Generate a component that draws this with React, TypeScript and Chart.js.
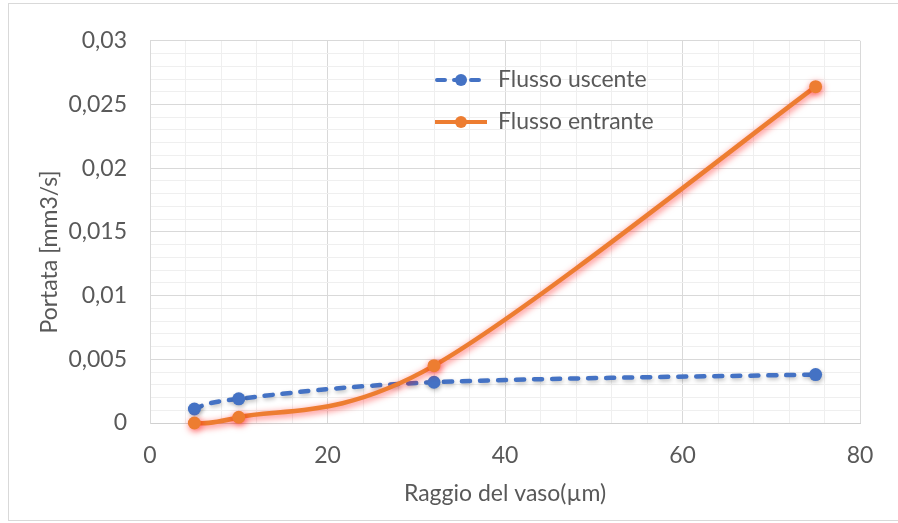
import React, { useEffect, useRef } from "react";
import { Chart, registerables } from "chart.js";

Chart.register(...registerables);

// Vessel radius (µm) and flow rates (mm3/s)
const raggi = [5, 10, 32, 75];
const flussoUscente = [0.0011, 0.0019, 0.0032, 0.0038];
const flussoEntrante = [0, 0.00045, 0.0045, 0.0264];

const seriesNames = ["Flusso uscente", "Flusso entrante"];
const xTitle = "Raggio del vaso(µm)";
const yTitle = "Portata [mm3/s]";

const BLUE = "#4472C4";
const ORANGE = "#ED7D31";
const TEXT = "#595959";
const FONT = "Lato, 'Open Sans', sans-serif";
const FS = 23;

const fmt = (v: number) => String(Number(v.toFixed(4))).replace(".", ",");

// Catmull-Rom style smoothing (control points at ±1/6 of the neighbour chord)
// plus a soft shadow / glow under each series
const smoothShadow = {
  id: "smoothShadow",
  beforeDatasetDraw(chart: any, args: any) {
    const meta = chart.getDatasetMeta(args.index);
    const line = meta.dataset;
    if (line && line.updateControlPoints) {
      line.updateControlPoints(chart.chartArea, meta.iScale ? meta.iScale.axis : "x");
      const pts = meta.data;
      for (let i = 0; i < pts.length; i++) {
        const p = pts[i];
        const prev = pts[i - 1] || p;
        const next = pts[i + 1] || p;
        const tx = (next.x - prev.x) / 6;
        const ty = (next.y - prev.y) / 6;
        p.cp1x = p.x - tx;
        p.cp1y = p.y - ty;
        p.cp2x = p.x + tx;
        p.cp2y = p.y + ty;
      }
      delete line._path;
    }
    const ds = chart.data.datasets[args.index] as any;
    const ctx = chart.ctx;
    ctx.save();
    if (ds.glow) {
      ctx.shadowColor = ds.glow.color;
      ctx.shadowBlur = ds.glow.blur;
      ctx.shadowOffsetX = ds.glow.dx;
      ctx.shadowOffsetY = ds.glow.dy;
    }
  },
  afterDatasetDraw(chart: any) {
    chart.ctx.restore();
  },
};

// Legend inside the plot area and the rotated y-axis title
const decorations = {
  id: "decorations",
  afterDraw(chart: any) {
    const ctx = chart.ctx;
    const x0 = 426;
    const x1 = 478;
    const rows = [
      { y: 76, color: BLUE, dash: [8, 9], cap: "round", label: seriesNames[0] },
      { y: 118, color: ORANGE, dash: [], cap: "butt", label: seriesNames[1] },
    ];
    ctx.save();
    for (const r of rows) {
      ctx.strokeStyle = r.color;
      ctx.lineWidth = 4;
      ctx.lineCap = r.cap;
      ctx.setLineDash(r.dash);
      ctx.beginPath();
      ctx.moveTo(x0 + (r.cap === "round" ? 2 : 0), r.y);
      ctx.lineTo(x1, r.y);
      ctx.stroke();
      ctx.setLineDash([]);
      ctx.fillStyle = r.color;
      ctx.beginPath();
      ctx.arc((x0 + x1) / 2, r.y, 6, 0, Math.PI * 2);
      ctx.fill();
      ctx.fillStyle = TEXT;
      ctx.font = `${FS}px ${FONT}`;
      ctx.textBaseline = "middle";
      ctx.textAlign = "left";
      ctx.fillText(r.label, 489, r.y);
    }
    ctx.translate(41, 248);
    ctx.rotate(-Math.PI / 2);
    ctx.fillStyle = TEXT;
    ctx.font = `${FS}px ${FONT}`;
    ctx.textAlign = "center";
    ctx.textBaseline = "middle";
    ctx.fillText(yTitle, 0, 0);
    ctx.restore();
  },
};

export default function App() {
  const canvasRef = useRef<HTMLCanvasElement | null>(null);

  useEffect(() => {
    const canvas = canvasRef.current;
    if (!canvas) return;
    const chart = new Chart(canvas, {
      type: "line",
      data: {
        datasets: [
          {
            label: seriesNames[0],
            data: raggi.map((x, i) => ({ x, y: flussoUscente[i] })),
            borderColor: BLUE,
            backgroundColor: BLUE,
            borderWidth: 4.5,
            borderDash: [8, 10],
            borderCapStyle: "round",
            pointRadius: 6.5,
            pointBorderWidth: 0,
            pointBackgroundColor: BLUE,
            tension: 0.4,
            clip: false,
            order: 1,
            glow: { color: "rgba(0,0,0,0.25)", blur: 4, dx: 1, dy: 2 },
          } as any,
          {
            label: seriesNames[1],
            data: raggi.map((x, i) => ({ x, y: flussoEntrante[i] })),
            borderColor: ORANGE,
            backgroundColor: ORANGE,
            borderWidth: 4.5,
            pointRadius: 6.5,
            pointBorderWidth: 0,
            pointBackgroundColor: ORANGE,
            tension: 0.4,
            clip: false,
            order: 0,
            glow: { color: "rgba(255,0,0,0.6)", blur: 7, dx: 1, dy: 2 },
          } as any,
        ],
      },
      options: {
        responsive: false,
        animation: false,
        layout: { padding: { left: 0, top: 33, right: 38, bottom: 0 } },
        plugins: {
          legend: { display: false },
          tooltip: { enabled: false },
        },
        scales: {
          x: {
            type: "linear",
            min: 0,
            max: 80,
            afterFit: (s: any) => {
              s.height = 97;
            },
            ticks: {
              stepSize: 4,
              autoSkip: false,
              maxRotation: 0,
              padding: 19,
              color: TEXT,
              font: { family: FONT, size: FS },
              callback: (v: any) => (Number(v) % 20 === 0 ? fmt(Number(v)) : ""),
            },
            grid: {
              drawTicks: false,
              lineWidth: 1,
              color: (c: any) =>
                c.tick && Math.round(c.tick.value) % 20 === 0 ? "#d9d9d9" : "#efefef",
            },
            border: { display: true, color: "#d0d0d0" },
            title: {
              display: true,
              text: xTitle,
              color: TEXT,
              font: { family: FONT, size: FS },
              padding: { top: 0, bottom: 13 },
            },
          },
          y: {
            type: "linear",
            min: 0,
            max: 0.03,
            afterFit: (s: any) => {
              s.width = 141;
            },
            ticks: {
              stepSize: 0.001,
              autoSkip: false,
              padding: 23,
              color: TEXT,
              font: { family: FONT, size: FS },
              callback: (v: any) =>
                Math.round(Number(v) * 1000) % 5 === 0 ? fmt(Number(v)) : "",
            },
            grid: {
              drawTicks: false,
              lineWidth: 1,
              color: (c: any) =>
                c.tick && Math.round(c.tick.value * 1000) % 5 === 0 ? "#d9d9d9" : "#efefef",
            },
            border: { display: true, color: "#d9d9d9" },
          },
        },
      },
      plugins: [smoothShadow, decorations],
    });
    return () => chart.destroy();
  }, []);

  return (
    <div
      style={{
        position: "absolute",
        left: 8,
        top: 3,
        width: 889,
        height: 516,
        borderTop: "1px solid #d9d9d9",
        borderLeft: "1px solid #d9d9d9",
        borderBottom: "1px solid #d9d9d9",
        background: "#fff",
      }}
    >
      <canvas ref={canvasRef} width={889} height={516} style={{ display: "block" }} />
    </div>
  );
}
